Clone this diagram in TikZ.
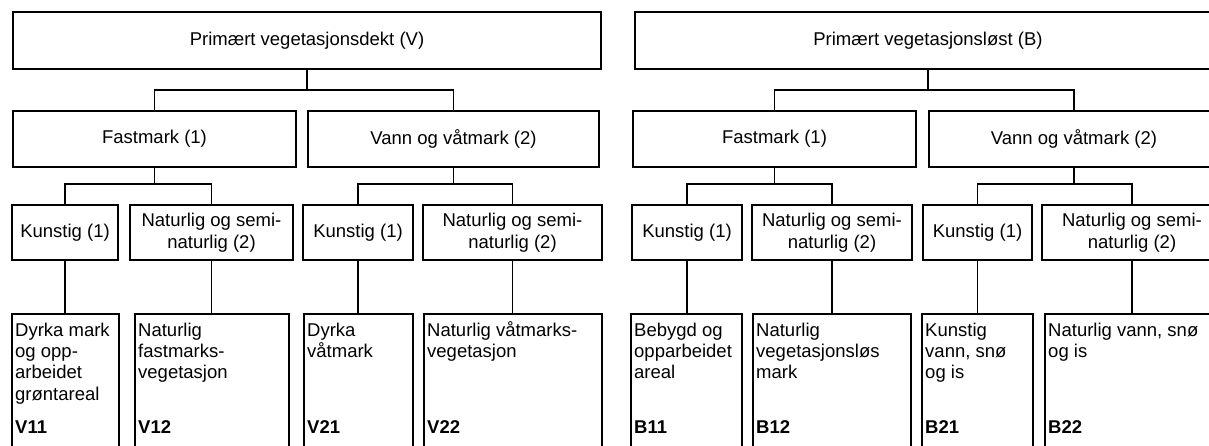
\documentclass[tikz,border=0pt]{standalone}
\usepackage{fontspec}
\setmainfont{Liberation Sans}
\begin{document}
\begin{tikzpicture}[x=1pt,y=-1pt,
  box/.style={draw=black, line width=1.1pt, rectangle, inner sep=0pt, outer sep=0pt, align=center, font=\fontsize{18.5}{22}\selectfont},
  leaf/.style={draw=black, line width=1.1pt, rectangle, inner sep=0pt, outer sep=0pt, minimum height=146pt},
  leaftext/.style={anchor=north west, inner sep=0pt, align=left, xshift=3pt, yshift=-7pt, font=\fontsize{18.5}{21.3}\selectfont},
  code/.style={anchor=base west, inner sep=0pt, xshift=3pt, yshift=-119pt, font=\fontsize{18.5}{22}\selectfont\bfseries},
  conn/.style={draw=black, line width=1.1pt}]
\useasboundingbox (0,0) rectangle (1209,445);
\clip (0,0) rectangle (1209,445);

% level 0
\node[box, minimum width=588pt, minimum height=57pt] (V) at (307,40.5) {Primært vegetasjonsdekt (V)};
\node[box, minimum width=586pt, minimum height=57pt] (B) at (928,40.5) {Primært vegetasjonsløst (B)};

% level 1
\node[box, minimum width=283pt, minimum height=56pt] (FV1) at (154.5,139) {Fastmark (1)};
\node[box, minimum width=291pt, minimum height=56pt] (VV2) at (453.5,139) {Vann og våtmark (2)};
\node[box, minimum width=283pt, minimum height=56pt] (FB1) at (774.5,139) {Fastmark (1)};
\node[box, minimum width=290pt, minimum height=56pt] (VB2) at (1074,139) {Vann og våtmark (2)};

% level 2
\node[box, minimum width=106pt, minimum height=55pt] (KV1) at (65,232.5) {Kunstig (1)};
\node[box, minimum width=163pt, minimum height=55pt] (NV1) at (211.5,232.5) {Naturlig og semi-\\naturlig (2)};
\node[box, minimum width=110pt, minimum height=55pt] (KV2) at (358,232.5) {Kunstig (1)};
\node[box, minimum width=179pt, minimum height=55pt] (NV2) at (512.5,232.5) {Naturlig og semi-\\naturlig (2)};
\node[box, minimum width=110pt, minimum height=55pt] (KB1) at (687,232.5) {Kunstig (1)};
\node[box, minimum width=160pt, minimum height=55pt] (NB1) at (832,232.5) {Naturlig og semi-\\naturlig (2)};
\node[box, minimum width=109pt, minimum height=55pt] (KB2) at (977.5,232.5) {Kunstig (1)};
\node[box, minimum width=180pt, minimum height=55pt] (NB2) at (1132,232.5) {Naturlig og semi-\\naturlig (2)};

% level 3
\node[leaf, minimum width=107pt] (V11) at (65.5,387) {};
\node[leaf, minimum width=154pt] (V12) at (212,387) {};
\node[leaf, minimum width=109pt] (V21) at (358.5,387) {};
\node[leaf, minimum width=178pt] (V22) at (513,387) {};
\node[leaf, minimum width=111pt] (B11) at (686.5,387) {};
\node[leaf, minimum width=158pt] (B12) at (832,387) {};
\node[leaf, minimum width=111pt] (B21) at (977.5,387) {};
\node[leaf, minimum width=177pt] (B22) at (1133.5,387) {};

\node[leaftext] (tV11) at (V11.north west) {\rule{0pt}{15pt}Dyrka mark\\og opp-\\arbeidet\\grøntareal};
\node[leaftext] (tV12) at (V12.north west) {\rule{0pt}{15pt}Naturlig\\fastmarks-\\vegetasjon};
\node[leaftext] (tV21) at (V21.north west) {\rule{0pt}{15pt}Dyrka\\våtmark};
\node[leaftext] (tV22) at (V22.north west) {\rule{0pt}{15pt}Naturlig våtmarks-\\vegetasjon};
\node[leaftext] (tB11) at (B11.north west) {\rule{0pt}{15pt}Bebygd og\\opparbeidet\\areal};
\node[leaftext] (tB12) at (B12.north west) {\rule{0pt}{15pt}Naturlig\\vegetasjonsløs\\mark};
\node[leaftext] (tB21) at (B21.north west) {\rule{0pt}{15pt}Kunstig\\vann, snø\\og is};
\node[leaftext] (tB22) at (B22.north west) {\rule{0pt}{15pt}Naturlig vann, snø\\og is};

\node[code] (cV11) at (V11.north west) {V11};
\node[code] (cV12) at (V12.north west) {V12};
\node[code] (cV21) at (V21.north west) {V21};
\node[code] (cV22) at (V22.north west) {V22};
\node[code] (cB11) at (B11.north west) {B11};
\node[code] (cB12) at (B12.north west) {B12};
\node[code] (cB21) at (B21.north west) {B21};
\node[code] (cB22) at (B22.north west) {B22};

% connectors level 0 -> 1
\draw[conn] (V.south) -- ++(0,21) coordinate (vm);
\draw[conn] (FV1.north) |- (vm) -| (VV2.north);
\draw[conn] (B.south) -- ++(0,21) coordinate (bm);
\draw[conn] (FB1.north) |- (bm) -| (VB2.north);

% connectors level 1 -> 2
\draw[conn] (FV1.south) -- ++(0,17) coordinate (fv1m);
\draw[conn] (KV1.north) |- (fv1m) -| (NV1.north);
\draw[conn] (VV2.south) -- ++(0,17) coordinate (vv2m);
\draw[conn] (KV2.north) |- (vv2m) -| (NV2.north);
\draw[conn] (FB1.south) -- ++(0,17) coordinate (fb1m);
\draw[conn] (KB1.north) |- (fb1m) -| (NB1.north);
\draw[conn] (VB2.south) -- ++(0,17) coordinate (vb2m);
\draw[conn] (KB2.north) |- (vb2m) -| (NB2.north);

% connectors level 2 -> 3
\draw[conn] (KV1.south) -- (KV1.south |- V11.north);
\draw[conn] (NV1.south) -- (NV1.south |- V12.north);
\draw[conn] (KV2.south) -- (KV2.south |- V21.north);
\draw[conn] (NV2.south) -- (NV2.south |- V22.north);
\draw[conn] (KB1.south) -- (KB1.south |- B11.north);
\draw[conn] (NB1.south) -- (NB1.south |- B12.north);
\draw[conn] (KB2.south) -- (KB2.south |- B21.north);
\draw[conn] (NB2.south) -- (NB2.south |- B22.north);
\end{tikzpicture}
\end{document}
